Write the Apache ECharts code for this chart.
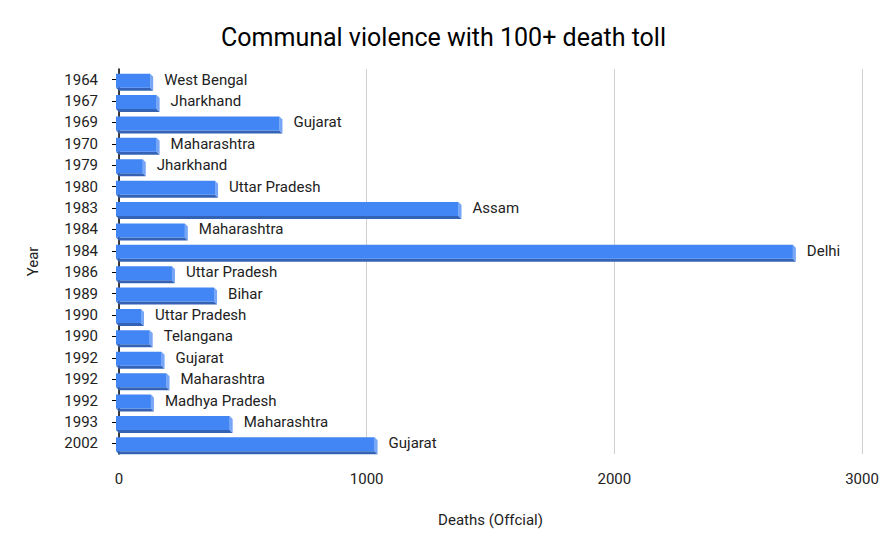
<!DOCTYPE html>
<html>
<head>
<meta charset="utf-8">
<script src="https://cdn.jsdelivr.net/npm/echarts@6/dist/echarts.min.js"></script>
<style>
  html, body { margin: 0; padding: 0; background: #fff; }
  #chart { width: 887px; height: 546px; }
</style>
</head>
<body>
<div id="chart"></div>
<script>
const years = ['1964', '1967', '1969', '1970', '1979', '1980', '1983', '1984', '1984',
  '1986', '1989', '1990', '1990', '1992', '1992', '1992', '1993', '2002']
const states = ['West Bengal', 'Jharkhand', 'Gujarat', 'Maharashtra', 'Jharkhand', 'Uttar Pradesh',
  'Assam', 'Maharashtra', 'Delhi', 'Uttar Pradesh', 'Bihar', 'Uttar Pradesh', 'Telangana',
  'Gujarat', 'Maharashtra', 'Madhya Pradesh', 'Maharashtra', 'Gujarat']
const deaths = [138, 164, 660, 164, 108, 400, 1383, 278, 2733, 226, 396, 101, 136, 184, 204, 141, 459, 1044]
const xTicks = [0, 1000, 2000, 3000]

const font = 'Roboto, "Liberation Sans", Arial, sans-serif'

const chart = echarts.init(document.getElementById('chart'), null, { renderer: 'svg' })

// 3d-ish bars like the google chart: front face, lit side, dark bottom
function renderBar(params, api) {
  const idx = api.value(1)
  const start = api.coord([0, idx])
  const end = api.coord([api.value(0), idx])
  const yc = start[1]
  const d = 3
  const x0 = start[0] - d
  const x1 = end[0] - d
  const top = yc - 6
  const bot = yc + 8
  return {
    type: 'group',
    children: [
      {
        type: 'polygon',
        shape: { points: [[x0, bot], [x1, bot], [x1 + d, bot + d], [x0 + d, bot + d]] },
        style: { fill: '#3463b6' }
      },
      {
        type: 'polygon',
        shape: { points: [[x1, top], [x1 + d, top + d], [x1 + d, bot + d], [x1, bot]] },
        style: { fill: '#77a6f7' }
      },
      {
        type: 'rect',
        shape: { x: x0, y: top, width: x1 - x0, height: bot - top },
        style: { fill: '#4285f4' }
      },
      {
        type: 'text',
        style: {
          text: states[params.dataIndex],
          x: end[0] + 11,
          y: yc,
          verticalAlign: 'middle',
          fill: '#222',
          font: '15px ' + font
        }
      }
    ]
  }
}

const option = {
  animation: false,
  title: {
    text: 'Communal violence with 100+ death toll',
    left: 'center',
    top: 20,
    textStyle: { fontFamily: font, fontSize: 25, fontWeight: 'normal', color: '#000' }
  },
  grid: { left: 119, right: 25, top: 69, bottom: 92, containLabel: false },
  xAxis: {
    type: 'value',
    min: xTicks[0],
    max: xTicks[xTicks.length - 1],
    interval: 1000,
    name: 'Deaths (Offcial)',
    nameLocation: 'middle',
    nameGap: 58,
    nameTextStyle: { fontFamily: font, fontSize: 15, color: '#222' },
    axisLine: { show: false },
    axisTick: { show: false },
    axisLabel: { margin: 17, fontFamily: font, fontSize: 15, color: '#222', formatter: v => String(v) },
    splitLine: { lineStyle: { color: '#d0d0d0', width: 1 } }
  },
  yAxis: [
    {
      type: 'category',
      data: years,
      inverse: true,
      offset: 6,
      name: 'Year',
      nameLocation: 'middle',
      nameGap: 73,
      nameTextStyle: { fontFamily: font, fontSize: 15, color: '#222' },
      axisLine: { show: true, lineStyle: { color: '#000', width: 1.5 } },
      axisTick: { show: true, alignWithLabel: true, length: 7, lineStyle: { color: '#000' } },
      axisLabel: { margin: 15, fontFamily: font, fontSize: 15, color: '#222' },
      splitLine: { show: false }
    },
    {
      type: 'category',
      data: years,
      inverse: true,
      position: 'left',
      offset: 6,
      axisLine: { show: false },
      axisTick: { show: true, inside: true, alignWithLabel: true, length: 8, lineStyle: { color: '#000' } },
      axisLabel: { show: false },
      splitLine: { show: false }
    }
  ],
  series: [{
    type: 'custom',
    renderItem: renderBar,
    encode: { x: 0, y: 1 },
    data: deaths.map((v, i) => [v, i])
  }]
}

chart.setOption(option)
</script>
</body>
</html>
